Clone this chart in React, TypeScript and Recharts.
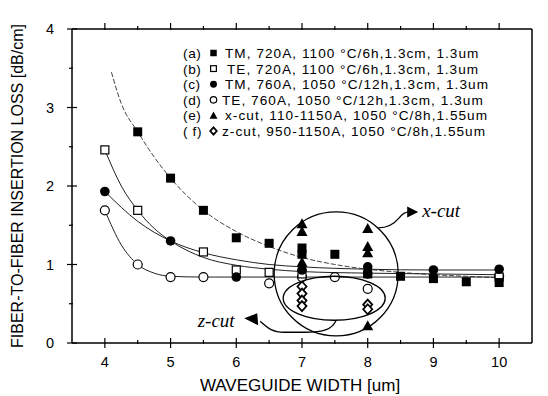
import React from 'react';
import { ComposedChart, XAxis, YAxis, Scatter, Line, ReferenceDot, Customized } from 'recharts';

const FONT = "Arial, 'Liberation Sans', Helvetica, sans-serif";
const SERIF = "'Liberation Serif', 'Times New Roman', Times, serif";

const xTicks = [4, 4.5, 5, 5.5, 6, 6.5, 7, 7.5, 8, 8.5, 9, 9.5, 10];
const yTicks = [0, 0.5, 1, 1.5, 2, 2.5, 3, 3.5, 4];

// (a) TM 720A filled squares
const ptsA = [
  { x: 4.5, y: 2.69 }, { x: 5, y: 2.1 }, { x: 5.5, y: 1.69 }, { x: 6, y: 1.34 },
  { x: 6.5, y: 1.27 }, { x: 7, y: 1.21 }, { x: 7, y: 1.13 }, { x: 7.5, y: 1.13 },
  { x: 8, y: 0.88 }, { x: 8.5, y: 0.85 }, { x: 9, y: 0.82 }, { x: 9.5, y: 0.78 }, { x: 10, y: 0.77 },
];
// (b) TE 720A open squares
const ptsB = [
  { x: 4, y: 2.46 }, { x: 4.5, y: 1.69 }, { x: 5.5, y: 1.16 }, { x: 6, y: 0.93 },
  { x: 6.5, y: 0.9 }, { x: 7, y: 0.88 }, { x: 10, y: 0.84 },
];
// (c) TM 760A filled circles
const ptsC = [
  { x: 4, y: 1.93 }, { x: 5, y: 1.3 }, { x: 6, y: 0.84 }, { x: 7, y: 0.93 },
  { x: 8, y: 0.97 }, { x: 8, y: 0.88 }, { x: 9, y: 0.93 }, { x: 10, y: 0.94 },
];
// (d) TE 760A open circles
const ptsD = [
  { x: 4, y: 1.69 }, { x: 4.5, y: 1.0 }, { x: 5, y: 0.84 }, { x: 5.5, y: 0.84 },
  { x: 6.5, y: 0.76 }, { x: 7, y: 0.84 }, { x: 7.5, y: 0.84 }, { x: 8, y: 0.69 }, { x: 10, y: 0.85 },
];
// (e) x-cut filled triangles
const ptsE = [
  { x: 7, y: 1.52 }, { x: 7, y: 1.42 }, { x: 7, y: 1.03 },
  { x: 8, y: 1.46 }, { x: 8, y: 1.23 }, { x: 8, y: 1.15 }, { x: 8, y: 0.22 },
];
// (f) z-cut diamonds
const ptsF = [
  { x: 7, y: 0.72 }, { x: 7, y: 0.63 }, { x: 7, y: 0.54 }, { x: 7, y: 0.47 },
  { x: 8, y: 0.49 }, { x: 8, y: 0.43 },
];

// fitted curves
const fitA = [
  { x: 4.1, y: 3.45 }, { x: 4.25, y: 3.05 }, { x: 4.5, y: 2.69 }, { x: 4.75, y: 2.37 },
  { x: 5, y: 2.1 }, { x: 5.5, y: 1.69 }, { x: 6, y: 1.42 }, { x: 6.5, y: 1.23 },
  { x: 7, y: 1.09 }, { x: 7.5, y: 1.0 }, { x: 8, y: 0.94 }, { x: 8.5, y: 0.9 },
  { x: 9, y: 0.87 }, { x: 9.5, y: 0.85 }, { x: 10, y: 0.83 },
];
const fitB = [
  { x: 4, y: 2.46 }, { x: 4.25, y: 2.0 }, { x: 4.5, y: 1.69 }, { x: 4.75, y: 1.46 },
  { x: 5, y: 1.3 }, { x: 5.5, y: 1.09 }, { x: 6, y: 0.99 }, { x: 6.5, y: 0.94 },
  { x: 7, y: 0.91 }, { x: 8, y: 0.89 }, { x: 9, y: 0.88 }, { x: 10, y: 0.87 },
];
const fitC = [
  { x: 4, y: 1.93 }, { x: 4.5, y: 1.55 }, { x: 5, y: 1.3 }, { x: 5.5, y: 1.15 },
  { x: 6, y: 1.06 }, { x: 6.5, y: 1.0 }, { x: 7, y: 0.97 }, { x: 8, y: 0.94 },
  { x: 9, y: 0.93 }, { x: 10, y: 0.93 },
];
const fitD = [
  { x: 4, y: 1.69 }, { x: 4.25, y: 1.25 }, { x: 4.5, y: 1.0 }, { x: 4.75, y: 0.89 },
  { x: 5, y: 0.85 }, { x: 5.5, y: 0.84 }, { x: 6, y: 0.84 }, { x: 7, y: 0.84 },
  { x: 8, y: 0.84 }, { x: 9, y: 0.84 }, { x: 10, y: 0.84 },
];

const legendTags = ['(a)', '(b)', '(c)', '(d)', '(e)', '( f)'];
const legendTexts = [
  'TM, 720A, 1100 \u00b0C/6h,1.3cm, 1.3um',
  'TE, 720A, 1100 \u00b0C/6h,1.3cm, 1.3um',
  'TM, 760A, 1050 \u00b0C/12h,1.3cm, 1.3um',
  'TE, 760A, 1050 \u00b0C/12h,1.3cm, 1.3um',
  'x-cut, 110-1150A, 1050 \u00b0C/8h,1.55um',
  'z-cut, 950-1150A, 1050 \u00b0C/8h,1.55um',
];
const legendKinds = ['sqF', 'sqO', 'ciF', 'ciO', 'trF', 'diO'];

// annotation anchors (data coordinates)
const xCutCenter = { x: 7.52, y: 0.88 };
const zCutCenter = { x: 7.49, y: 0.57 };

const marker = (kind: string, cx: number, cy: number, s = 1) => {
  switch (kind) {
    case 'sqF':
      return <rect x={cx - 4.5 * s} y={cy - 4.5 * s} width={9 * s} height={9 * s} fill="#000" />;
    case 'sqO':
      return <rect x={cx - 4 * s} y={cy - 4 * s} width={8 * s} height={8 * s} fill="#fff" stroke="#000" strokeWidth={1.2} />;
    case 'ciF':
      return <circle cx={cx} cy={cy} r={4.8 * s} fill="#000" />;
    case 'ciO':
      return <circle cx={cx} cy={cy} r={4.5 * s} fill="#fff" stroke="#000" strokeWidth={1.2} />;
    case 'trF':
      return <polygon points={`${cx},${cy - 5.5 * s} ${cx + 5.5 * s},${cy + 4.5 * s} ${cx - 5.5 * s},${cy + 4.5 * s}`} fill="#000" />;
    default:
      return <polygon points={`${cx},${cy - 5 * s} ${cx + 4.5 * s},${cy} ${cx},${cy + 5 * s} ${cx - 4.5 * s},${cy}`} fill="#fff" stroke="#000" strokeWidth={1.8} />;
  }
};

const shapeOf = (kind: string) => (p: any) => marker(kind, p.cx, p.cy);

const BottomTick = (p: any) => {
  const { x, y, payload } = p;
  const major = Number.isInteger(payload.value);
  return (
    <g>
      <line x1={x} x2={x} y1={major ? y - 5 : y - 3} y2={major ? y + 5 : y + 1} stroke="#000" strokeWidth={1.2} />
      {major && (
        <text x={x} y={y + 24} textAnchor="middle" fontSize={14.5} fontFamily={FONT} fill="#000">{payload.value}</text>
      )}
    </g>
  );
};
const TopTick = (p: any) => {
  const { x, y, payload } = p;
  const major = Number.isInteger(payload.value);
  return <line x1={x} x2={x} y1={major ? y - 6 : y - 3} y2={y + 1} stroke="#000" strokeWidth={1.2} />;
};
const LeftTick = (p: any) => {
  const { x, y, payload } = p;
  const major = Number.isInteger(payload.value);
  return (
    <g>
      <line x1={major ? x - 5 : x - 3} x2={major ? x + 5 : x + 1} y1={y} y2={y} stroke="#000" strokeWidth={1.2} />
      {major && (
        <text x={x - 18} y={y + 5} textAnchor="end" fontSize={14.5} fontFamily={FONT} fill="#000">{payload.value}</text>
      )}
    </g>
  );
};
const RightTick = (p: any) => {
  const { x, y, payload } = p;
  const major = Number.isInteger(payload.value);
  return <line x1={x - 1} x2={major ? x + 6 : x + 3} y1={y} y2={y} stroke="#000" strokeWidth={1.2} />;
};

const LegendBlock = () => (
  <g fontFamily={FONT} fontSize={13.6} fill="#000">
    {legendTags.map((t, i) => {
      const base = 58 + i * 15.6;
      const tx = [225, 227, 225, 222, 225, 222][i];
      return (
        <g key={i}>
          <text x={183} y={base} letterSpacing={0.6}>{t}</text>
          {marker(legendKinds[i], 213.5, base - 5, 0.72)}
          <text x={tx} y={base} letterSpacing={1.05}>{legendTexts[i]}</text>
        </g>
      );
    })}
  </g>
);

const XCutAnno = (p: any) => {
  const { cx, cy } = p;
  return (
    <g>
      <circle cx={cx} cy={cy} r={62} fill="none" stroke="#000" strokeWidth={1.3} />
      <path d={`M ${cx + 42} ${cy - 46} C ${cx + 52} ${cy - 46}, ${cx + 58} ${cy - 50}, ${cx + 63} ${cy - 56} C ${cx + 66} ${cy - 60}, ${cx + 69} ${cy - 62}, ${cx + 73} ${cy - 62}`} fill="none" stroke="#000" strokeWidth={1.3} />
      <polygon points={`${cx + 82},${cy - 62} ${cx + 71},${cy - 67.5} ${cx + 71},${cy - 56.5}`} fill="#000" />
      <text x={cx + 86} y={cy - 57} fontFamily={SERIF} fontStyle="italic" fontSize={19} fill="#000">x-cut</text>
    </g>
  );
};

const ZCutAnno = (p: any) => {
  const { cx, cy } = p;
  return (
    <g>
      <ellipse cx={cx} cy={cy} rx={51} ry={22} fill="none" stroke="#000" strokeWidth={1.3} />
      <path d={`M ${cx + 2} ${cy + 22} C ${cx - 2} ${cy + 31}, ${cx - 10} ${cy + 34}, ${cx - 30} ${cy + 34} L ${cx - 50} ${cy + 34} C ${cx - 62} ${cy + 34}, ${cx - 66} ${cy + 30}, ${cx - 74} ${cy + 23}`} fill="none" stroke="#000" strokeWidth={1.3} />
      <polygon points={`${cx - 90},${cy + 20} ${cx - 77},${cy + 15} ${cx - 76},${cy + 27}`} fill="#000" />
      <text x={cx - 118} y={cy + 29} textAnchor="middle" fontFamily={SERIF} fontStyle="italic" fontSize={19} fill="#000">z-cut</text>
    </g>
  );
};

const YLabel = (p: any) => {
  const vb = p.viewBox || {};
  const x = 17;
  const y = (vb.y ?? 29) + (vb.height ?? 314) / 2;
  return (
    <text x={x} y={y} dy="0.35em" transform={`rotate(-90, ${x}, ${y})`} textAnchor="middle" fontFamily={FONT} fontSize={16} fill="#000">
      FIBER-TO-FIBER INSERTION LOSS [dB/cm]
    </text>
  );
};
const XLabel = (p: any) => {
  const vb = p.viewBox || {};
  const x = (vb.x ?? 72) + (vb.width ?? 460) / 2 - 2;
  const y = (vb.y ?? 343) + 48;
  return (
    <text x={x} y={y} textAnchor="middle" fontFamily={FONT} fontSize={17} fill="#000">WAVEGUIDE WIDTH [um]</text>
  );
};

export default function App() {
  return (
    <div style={{ marginLeft: -8, marginTop: -8, width: 548, height: 396, background: '#fff' }}>
      <ComposedChart width={548} height={396} margin={{ top: 19, right: 6, bottom: 23, left: 32 }}>
        <XAxis dataKey="x" type="number" domain={[3.5, 10.5]} ticks={xTicks} interval={0} allowDataOverflow
          tick={BottomTick} tickLine={false} tickSize={0} tickMargin={0} height={30}
          axisLine={{ stroke: '#000', strokeWidth: 1.5 }} label={{ content: XLabel }} />
        <XAxis xAxisId="top" orientation="top" dataKey="x" type="number" domain={[3.5, 10.5]} ticks={xTicks} interval={0}
          allowDataOverflow tick={TopTick} tickLine={false} tickSize={0} tickMargin={0} height={10}
          axisLine={{ stroke: '#000', strokeWidth: 1.5 }} />
        <YAxis type="number" domain={[0, 4]} ticks={yTicks} interval={0} allowDataOverflow width={40}
          tick={LeftTick} tickLine={false} tickSize={0} tickMargin={0}
          axisLine={{ stroke: '#000', strokeWidth: 1.5 }} label={{ content: YLabel }} />
        <YAxis yAxisId="right" orientation="right" type="number" domain={[0, 4]} ticks={yTicks} interval={0} width={10}
          tick={RightTick} tickLine={false} tickSize={0} tickMargin={0}
          axisLine={{ stroke: '#000', strokeWidth: 1.5 }} />

        <Line data={fitA} dataKey="y" type="monotone" stroke="#444" strokeWidth={1} strokeDasharray="5 2" dot={false} activeDot={false} isAnimationActive={false} />
        <Line data={fitB} dataKey="y" type="monotone" stroke="#222" strokeWidth={1} dot={false} activeDot={false} isAnimationActive={false} />
        <Line data={fitC} dataKey="y" type="monotone" stroke="#222" strokeWidth={1} dot={false} activeDot={false} isAnimationActive={false} />
        <Line data={fitD} dataKey="y" type="monotone" stroke="#222" strokeWidth={1} dot={false} activeDot={false} isAnimationActive={false} />

        <Scatter data={ptsF} dataKey="y" shape={shapeOf('diO')} isAnimationActive={false} />
        <Scatter data={ptsD} dataKey="y" shape={shapeOf('ciO')} isAnimationActive={false} />
        <Scatter data={ptsB} dataKey="y" shape={shapeOf('sqO')} isAnimationActive={false} />
        <Scatter data={ptsE} dataKey="y" shape={shapeOf('trF')} isAnimationActive={false} />
        <Scatter data={ptsC} dataKey="y" shape={shapeOf('ciF')} isAnimationActive={false} />
        <Scatter data={ptsA} dataKey="y" shape={shapeOf('sqF')} isAnimationActive={false} />

        <ReferenceDot x={xCutCenter.x} y={xCutCenter.y} r={1} shape={XCutAnno} />
        <ReferenceDot x={zCutCenter.x} y={zCutCenter.y} r={1} shape={ZCutAnno} />
        <Customized component={LegendBlock} />
      </ComposedChart>
    </div>
  );
}
